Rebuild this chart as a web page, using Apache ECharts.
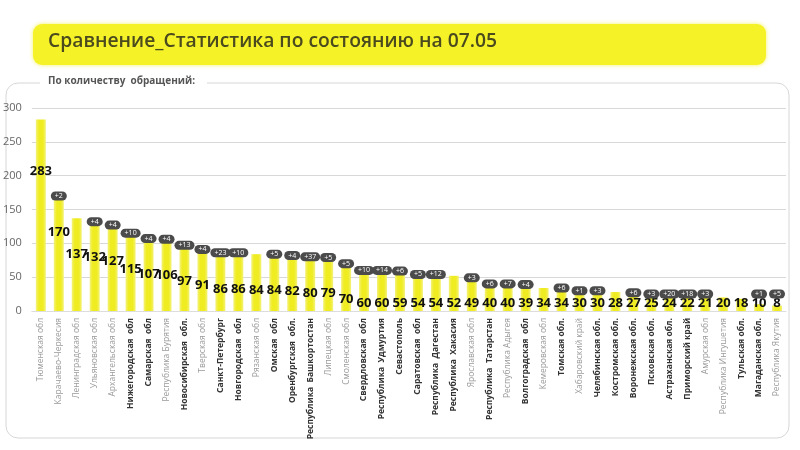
<!DOCTYPE html>
<html>
<head>
<meta charset="utf-8">
<script src="https://cdn.jsdelivr.net/npm/echarts@6/dist/echarts.min.js"></script>
<style>
    html, body { margin: 0; padding: 0; background: #fff; }
    #chart { width: 800px; height: 450px; }
</style>
</head>
<body>
<div id="chart"></div>
<script>
const regions = [
    "Тюменская обл", "Карачаево-Черкесия", "Ленинградская обл", "Ульяновская обл",
    "Архангельская обл", "Нижегородская  обл", "Самарская  обл", "Республика Бурятия",
    "Новосибирская  обл.", "Тверская обл", "Санкт-Петербург", "Новгородская  обл",
    "Рязанская обл", "Омская  обл", "Оренбургская  обл.", "Республика  Башкортостан",
    "Липецкая обл", "Смоленская обл", "Свердловская  обл", "Республика  Удмуртия",
    "Севастополь", "Саратовская  обл", "Республика  Дагестан", "Республика  Хакасия",
    "Ярославская обл", "Республика  Татарстан", "Республика Адыгея", "Волгоградская  обл",
    "Кемеровская обл", "Томская обл.", "Хабаровский край", "Челябинская обл.",
    "Костромская обл.", "Воронежская обл.", "Псковская обл.", "Астраханская обл.",
    "Приморский край", "Амурская обл", "Республика Ингушетия", "Тульская обл.",
    "Магаданская обл.", "Республика Якутия"
];
const requests = [
    283, 170, 137, 132, 127, 115, 107, 106, 97, 91, 86, 86, 84, 84, 82, 80, 79, 70, 60, 60, 59,
    54, 54, 52, 49, 40, 40, 39, 34, 34, 30, 30, 28, 27, 25, 24, 22, 21, 20, 18, 10, 8
];
const increments = [
    null, 2, null, 4, 4, 10, 4, 4, 13, 4, 23, 10, null, 5, 4, 37, 5, 5, 10, 14, 6,
    5, 12, null, 3, 6, 7, 4, null, 6, 1, 3, null, 6, 3, 20, 18, 3, null, null, 1, 5
];
const highlighted = [
    0, 0, 0, 0, 0, 1, 1, 0, 1, 0, 1, 1, 0, 1, 1, 1, 0, 0, 1, 1, 1,
    1, 1, 1, 0, 1, 0, 1, 0, 1, 0, 1, 1, 1, 1, 1, 1, 0, 0, 1, 1, 0
];
const yTicks = { min: 0, max: 300, interval: 50 };

const chart = echarts.init(document.getElementById("chart"));
const font = "'Open Sans', 'Noto Sans', sans-serif";
const barBottom = 311;

const option = {
    animation: false,
    textStyle: { fontFamily: font },
    graphic: [
        {
            type: "rect",
            z: -10,
            shape: { x: 6, y: 83, width: 783, height: 355, r: 12 },
            style: { fill: "none", stroke: "#d6d6d6", lineWidth: 1 }
        },
        {
            type: "rect",
            z: -5,
            shape: { x: 40, y: 77, width: 167, height: 12 },
            style: { fill: "#fff" }
        },
        {
            type: "text",
            left: 48,
            top: 76,
            style: {
                text: "По количеству  обращений:",
                fontSize: 10,
                fontWeight: "bold",
                fontFamily: font,
                fill: "#555"
            }
        },
        {
            type: "rect",
            shape: { x: 33, y: 24, width: 733, height: 41, r: 9 },
            style: {
                fill: "#f5f228",
                shadowBlur: 4,
                shadowColor: "rgba(240, 235, 0, 0.6)"
            }
        },
        {
            type: "text",
            left: 48,
            top: 32,
            style: {
                text: "Сравнение_Статистика по состоянию на 07.05",
                fontSize: 19.3,
                fontWeight: 600,
                fontFamily: font,
                fill: "#4a4a1e"
            }
        }
    ],
    grid: { left: 28, right: 14, top: 108, bottom: 450 - barBottom },
    xAxis: {
        type: "category",
        data: regions.map((name, i) => ({
            value: name,
            textStyle: highlighted[i]
                ? { color: "#333", fontWeight: "bold" }
                : { color: "#9a9a9a", fontWeight: "normal" }
        })),
        axisLine: { lineStyle: { color: "#ddd" } },
        axisTick: { show: false },
        axisLabel: { interval: 0, rotate: 90, fontSize: 8.5, margin: 7 }
    },
    yAxis: {
        type: "value",
        min: yTicks.min,
        max: yTicks.max,
        interval: yTicks.interval,
        axisLabel: { color: "#666", fontSize: 11, margin: 10 },
        splitLine: { lineStyle: { color: "#d8d8d8" } }
    },
    series: [
        {
            name: "Обращения",
            type: "bar",
            data: requests,
            barWidth: 10,
            itemStyle: {
                color: new echarts.graphic.LinearGradient(0, 0, 1, 0, [
                    { offset: 0, color: "#f4f27a" },
                    { offset: 0.3, color: "#efec22" },
                    { offset: 0.7, color: "#efec22" },
                    { offset: 1, color: "#f4f27a" }
                ])
            },
            label: {
                show: true,
                position: "insideTop",
                color: "#111",
                fontSize: 13,
                fontWeight: "bold"
            },
            labelLayout: function (params) {
                const r = params.rect;
                return {
                    x: r.x + r.width / 2,
                    y: Math.min(r.y + Math.max(36, r.height * 0.27), r.y + r.height - 8),
                    align: "center",
                    verticalAlign: "middle"
                };
            }
        },
        {
            name: "Прирост",
            type: "bar",
            barWidth: 10,
            barGap: "-100%",
            itemStyle: { color: "transparent" },
            silent: true,
            data: requests.map((v, i) => ({
                value: v,
                label: { show: increments[i] !== null }
            })),
            label: {
                position: "top",
                formatter: (p) => "+" + increments[p.dataIndex],
                color: "#fff",
                fontSize: 7,
                lineHeight: 8,
                padding: [1, 4, 0, 4],
                backgroundColor: "#4b4b4b",
                borderRadius: 5
            },
            labelLayout: function (params) {
                const r = params.rect;
                return {
                    x: r.x + r.width / 2,
                    y: Math.min(r.y, barBottom - 17),
                    align: "center",
                    verticalAlign: "middle"
                };
            }
        }
    ]
};
chart.setOption(option);
</script>
</body>
</html>
